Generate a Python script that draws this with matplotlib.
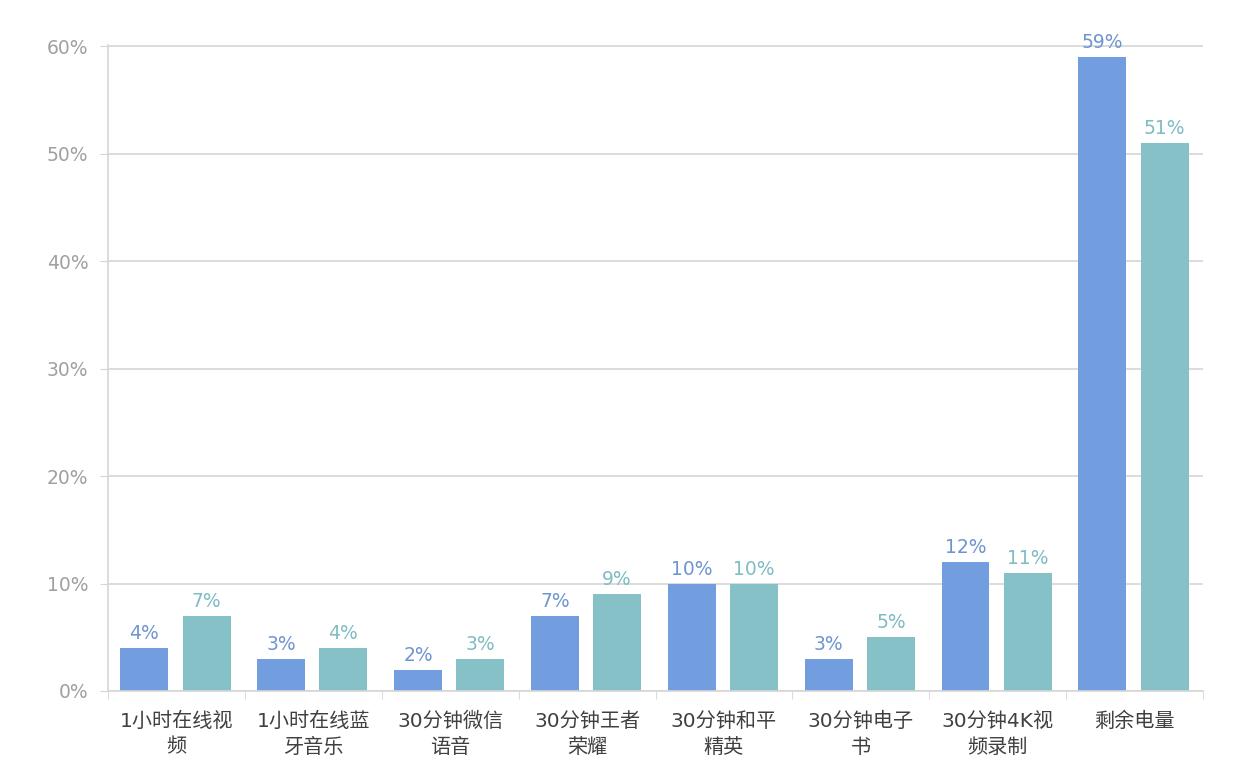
import matplotlib
matplotlib.use("Agg")
import matplotlib.pyplot as plt
import numpy as np

plt.rcParams['font.family'] = ['DejaVu Sans', 'Noto Sans CJK SC']

categories = ["1小时在线视\n频", "1小时在线蓝\n牙音乐", "30分钟微信\n语音", "30分钟王者\n荣耀",
              "30分钟和平\n精英", "30分钟电子\n书", "30分钟4K视\n频录制", "剩余电量"]
series_a = [4, 3, 2, 7, 10, 3, 12, 59]
series_b = [7, 4, 3, 9, 10, 5, 11, 51]

blue = "#729ee0"
teal = "#86c1c7"
blue_txt = "#6f95d0"
teal_txt = "#7fbcc3"
grid_c = "#d6d6d6"
tick_c = "#a0a0a0"

fig = plt.figure(figsize=(12.55, 7.61), dpi=100)
ax = fig.add_axes([108 / 1255, 1 - 691 / 761, 1095 / 1255, 646 / 761])

x = np.arange(len(categories))
w = 0.35
xa = x - 0.235
xb = x + 0.22
ax.bar(xa, series_a, width=w, color=blue, zorder=2)
ax.bar(xb, series_b, width=w, color=teal, zorder=2)

for xi, v in zip(xa, series_a):
    ax.text(xi, v + 0.45, f"{v}%", ha="center", va="bottom", color=blue_txt, fontsize=13.5)
for xi, v in zip(xb, series_b):
    ax.text(xi, v + 0.45, f"{v}%", ha="center", va="bottom", color=teal_txt, fontsize=13.5)

ax.set_xlim(-0.5, len(categories) - 0.5)
ax.set_ylim(0, 60.1)
ax.set_yticks(np.arange(0, 61, 10))
ax.set_yticklabels([f"{t}%" for t in range(0, 61, 10)], color=tick_c, fontsize=13.5)
ax.yaxis.grid(True, color=grid_c, lw=1.2, zorder=0)
ax.tick_params(axis="y", length=6, color=grid_c, pad=8)

ax.set_xticks(x)
ax.set_xticklabels(categories, color="#404040", fontsize=14.5, linespacing=1.45)
ax.tick_params(axis="x", length=0, pad=15)
ax.set_xticks(np.arange(-0.5, len(categories)), minor=True)
ax.tick_params(axis="x", which="minor", length=6, color=grid_c)

for s in ["top", "right"]:
    ax.spines[s].set_visible(False)
for s in ["left", "bottom"]:
    ax.spines[s].set_color(grid_c)
    ax.spines[s].set_linewidth(1.2)

fig.savefig("out.png", dpi=100)
